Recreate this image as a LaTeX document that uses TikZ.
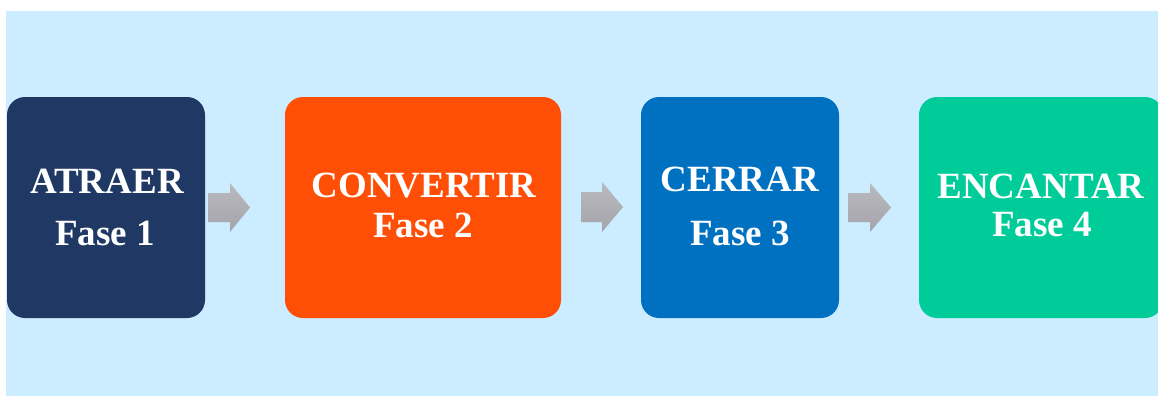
\documentclass[tikz,border=0pt]{standalone}
\usepackage{fontspec}
\setmainfont{Liberation Serif}
\definecolor{bgblue}{HTML}{CCECFF}
\definecolor{cnavy}{HTML}{1F3864}
\definecolor{corange}{HTML}{FF4F06}
\definecolor{cblue}{HTML}{0070C0}
\definecolor{cgreen}{HTML}{00CC99}
\definecolor{arrtop}{HTML}{B9B9C0}
\definecolor{arrbot}{HTML}{A4A4AA}
\begin{document}
\begin{tikzpicture}[x=1pt,y=-1pt,
  phasebox/.style={inner sep=0pt, rounded corners=18pt},
  lbl/.style={anchor=base, text=white, inner sep=0pt, font=\bfseries\fontsize{37}{44}\selectfont},
  blockarrow/.style={top color=arrtop, bottom color=arrbot, draw=none}]
\useasboundingbox (0,0) rectangle (1158,396);
\clip (0,0) rectangle (1158,396);
\fill[bgblue] (6,11) rectangle (1158,396);
% boxes
\fill[cnavy, phasebox] (7,97) rectangle (205,318);
\fill[corange, phasebox] (285,97) rectangle (561,318);
\fill[cblue, phasebox] (641,97) rectangle (839,318);
\fill[cgreen, phasebox] (919,97) rectangle (1163,318);
\coordinate (box1) at (106,207);
\coordinate (box2) at (423,207);
\coordinate (box3) at (740,207);
\coordinate (box4) at (1041,207);
% labels
\node[lbl] (t1a) at (107,193) {ATRAER};
\node[lbl] (t1b) at (105,245) {Fase 1};
\node[lbl] (t2a) at (424,197) {CONVERTIR};
\node[lbl] (t2b) at (423,237) {Fase 2};
\node[lbl] (t3a) at (740,191) {CERRAR};
\node[lbl] (t3b) at (740,245) {Fase 3};
\node[lbl] (t4a) at (1041,198) {ENCANTAR};
\node[lbl] (t4b) at (1042,236) {Fase 4};
% block arrows
\path[blockarrow] (208,193) -- (230,193) -- (230,183) -- (250,207.5) -- (230,232) -- (230,222) -- (208,222) -- cycle;
\path[blockarrow] (581,192) -- (602,192) -- (602,182) -- (623,207) -- (602,232) -- (602,222) -- (581,222) -- cycle;
\path[blockarrow] (848,193) -- (870,193) -- (870,183) -- (891,207.5) -- (870,232) -- (870,222) -- (848,222) -- cycle;
\end{tikzpicture}
\end{document}
